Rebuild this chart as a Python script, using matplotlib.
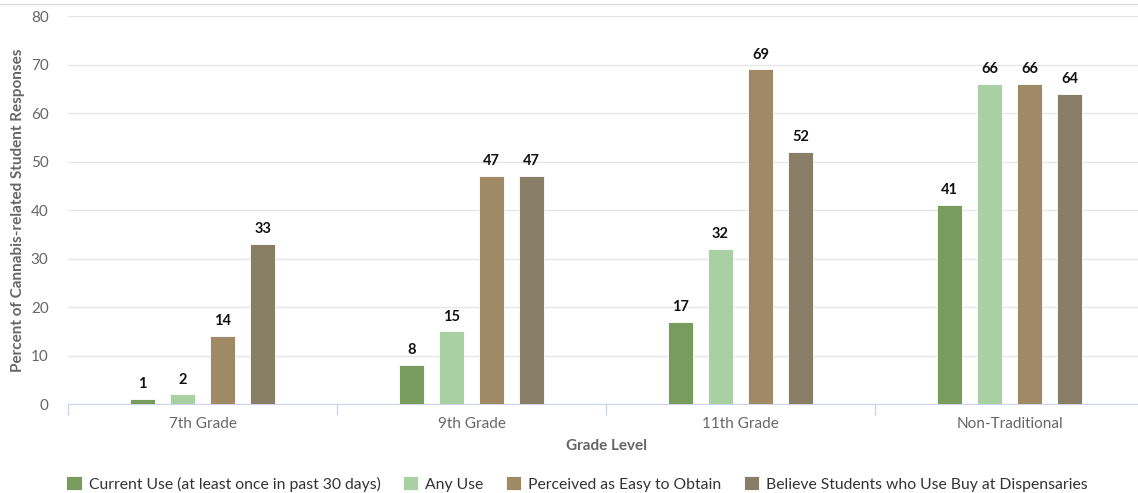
import numpy as np
import matplotlib
matplotlib.use("Agg")
import matplotlib.pyplot as plt

plt.rcParams['font.family'] = ['Lato', 'DejaVu Sans']

# 학년별 응답 비율
grades = ["7th Grade", "9th Grade", "11th Grade", "Non-Traditional"]
series_names = ["Current Use (at least once in past 30 days)", "Any Use",
                "Perceived as Easy to Obtain", "Believe Students who Use Buy at Dispensaries"]
current_use = [1, 8, 17, 41]
any_use = [2, 15, 32, 66]
easy_obtain = [14, 47, 69, 66]
buy_dispensary = [33, 47, 52, 64]
colors = ["#789c5e", "#a8d0a2", "#a08a66", "#887e66"]

values = [current_use, any_use, easy_obtain, buy_dispensary]

fig = plt.figure(figsize=(11.38, 4.93), dpi=100)
ax = fig.add_axes([0.0598, 0.1805, 0.9455, 0.787])

x = np.arange(len(grades))
width = 0.093
step = 0.149
offsets = (np.arange(4) - 1.5) * step

for vals, name, col, off in zip(values, series_names, colors, offsets):
    bars = ax.bar(x + off, vals, width, color=col, edgecolor="white", linewidth=0.6,
                  label=name, zorder=3)
    for b, v in zip(bars, vals):
        ax.text(b.get_x() + b.get_width() / 2, v + 1.6, str(v), ha="center", va="bottom",
                fontsize=10.5, fontweight="bold", color="#111111")

ax.set_xlim(-0.5, len(grades) - 0.5)
ax.set_ylim(0, 80)
ax.set_yticks(range(0, 81, 10))
ax.set_xticks(x)
ax.set_xticklabels(grades)
ax.set_xticks(np.arange(-0.5, len(grades), 1), minor=True)
ax.tick_params(axis="x", which="major", length=0, colors="#666666", labelsize=11, pad=9)
ax.tick_params(axis="x", which="minor", length=8, color="#ccd6eb", width=1)
ax.tick_params(axis="y", length=0, colors="#666666", labelsize=11, pad=14)
ax.grid(axis="y", color="#e6e6e6", linewidth=1, zorder=0)

for s in ["top", "right", "left"]:
    ax.spines[s].set_visible(False)
ax.spines["bottom"].set_color("#ccd6eb")

ax.set_xlabel("Grade Level", color="#666666", fontsize=11, fontweight="bold", labelpad=6)
ax.set_ylabel("Percent of Cannabis-related Student Responses", color="#666666",
              fontsize=11, fontweight="bold", labelpad=4)

# 상단 테두리선
fig.add_artist(plt.Line2D([0, 1], [0.992, 0.992], color="#dddddd", linewidth=1))

leg = fig.legend(loc="lower center", bbox_to_anchor=(0.507, -0.026), ncol=4, frameon=False,
                 fontsize=11.3, handlelength=1.0, handleheight=1.0, columnspacing=1.4,
                 handletextpad=0.45)
for t in leg.get_texts():
    t.set_color("#333333")

fig.savefig("out.png", dpi=100)
